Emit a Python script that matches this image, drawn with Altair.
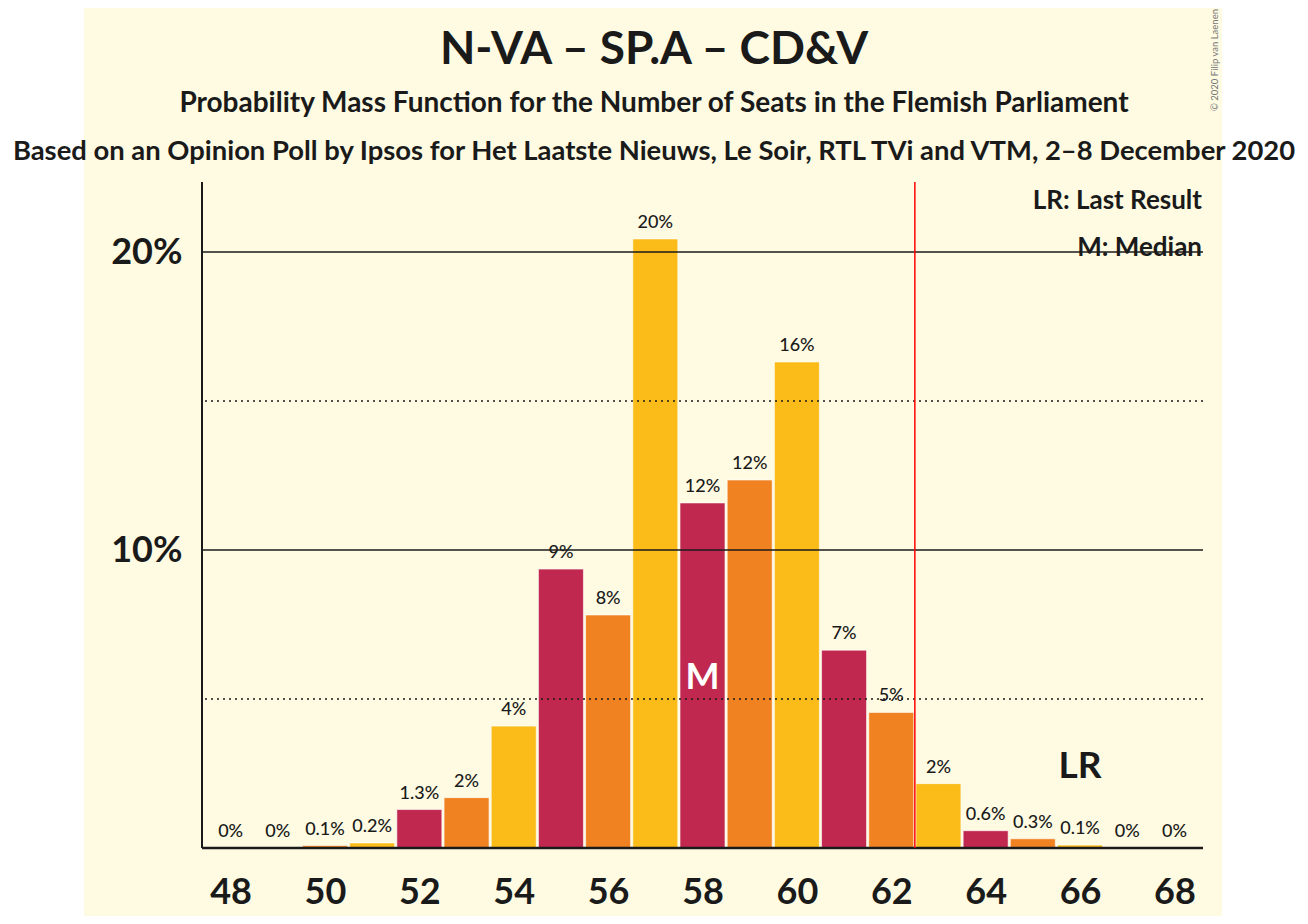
import pandas as pd
import altair as alt

# seats and probability mass (in percent)
seats = list(range(48, 69))
probs = [0, 0, 0.08, 0.17, 1.29, 1.69, 4.09, 9.36, 7.82, 20.44, 11.58,
         12.35, 16.31, 6.64, 4.55, 2.16, 0.58, 0.31, 0.1, 0, 0]
labels = ["0%", "0%", "0.1%", "0.2%", "1.3%", "2%", "4%", "9%", "8%", "20%",
          "12%", "12%", "16%", "7%", "5%", "2%", "0.6%", "0.3%", "0.1%",
          "0%", "0%"]
party_cycle = ["CD&V", "N-VA", "SP.A"]  # seat % 3 -> colour group
party_colours = ["#FBBC19", "#C0284F", "#F08222"]

majority = 62.5
median_seat = 58
last_result_seat = 66
grid_solid = [0.10, 0.20]
grid_dotted = [0.05, 0.15]
x_ticks = list(range(48, 69, 2))

title = "N-VA – SP.A – CD&V"
subtitle = "Probability Mass Function for the Number of Seats in the Flemish Parliament"
source = "Based on an Opinion Poll by Ipsos for Het Laatste Nieuws, Le Soir, RTL TVi and VTM, 2–8 December 2020"

FONT = "Lato"
INK = "#1A1A1A"
CREAM = "#FEFBE2"
Y_DOMAIN = [0, 0.2235]

df = pd.DataFrame({
    "seats": seats,
    "prob": [p / 100 for p in probs],
    "label": labels,
    "group": [party_cycle[s % 3] for s in seats],
})

x = alt.X("seats:Q", scale=alt.Scale(domain=[47.5, 68.5], nice=False, zero=False),
          axis=alt.Axis(values=x_ticks, title=None, grid=False, ticks=False,
                        domain=False, labelFont=FONT, labelFontSize=36,
                        labelFontWeight="bold", labelColor=INK, labelPadding=27,
                        zindex=2))
y = alt.Y("prob:Q", scale=alt.Scale(domain=Y_DOMAIN, nice=False),
          axis=alt.Axis(values=grid_solid, format=".0%", title=None, grid=False,
                        ticks=False, domain=False, labelFont=FONT,
                        labelFontSize=36, labelFontWeight="bold",
                        labelColor=INK, labelPadding=20, zindex=2))

base = alt.Chart(df)

# cream panel behind everything
panel = alt.Chart(pd.DataFrame({"a": [0]})).mark_rect(color=CREAM).encode(
    x=alt.value(-118), x2=alt.value(1020), y=alt.value(-190), y2=alt.value(750)
)

bars = base.mark_bar(width=45, stroke="white", strokeWidth=1, strokeOpacity=0.6).encode(
    x=x, y=y,
    color=alt.Color("group:N", scale=alt.Scale(domain=party_cycle, range=party_colours),
                    legend=None),
)

solid = alt.Chart(pd.DataFrame({"prob": grid_solid})).mark_rule(
    color=INK, strokeWidth=1.5
).encode(y="prob:Q")

dotted = alt.Chart(pd.DataFrame({"prob": grid_dotted})).mark_rule(
    color=INK, strokeWidth=1.5, strokeDash=[2, 4]
).encode(y="prob:Q")

values = base.mark_text(font=FONT, fontSize=18, fontWeight=500, color=INK,
                        baseline="alphabetic", dy=-11).encode(
    x="seats:Q", y="prob:Q", text="label:N"
)

axes_lines = alt.Chart(pd.DataFrame({"a": [0]})).mark_rule(color=INK, strokeWidth=2.5).encode(
    x=alt.value(0), x2=alt.value(1001), y=alt.value(666)
) + alt.Chart(pd.DataFrame({"a": [0]})).mark_rule(color=INK, strokeWidth=2).encode(
    x=alt.value(0), y=alt.value(0), y2=alt.value(666)
)

majority_rule = alt.Chart(pd.DataFrame({"seats": [majority]})).mark_rule(
    color="#FF0000", strokeWidth=1.5
).encode(x="seats:Q")

median_mark = alt.Chart(pd.DataFrame({"seats": [median_seat], "t": ["M"]})).mark_text(
    font=FONT, fontSize=36, fontWeight="bold", color="white", baseline="middle"
).encode(x="seats:Q", y=alt.value(496), text="t:N")

lr_mark = alt.Chart(pd.DataFrame({"seats": [last_result_seat], "t": ["LR"]})).mark_text(
    font=FONT, fontSize=37, fontWeight="bold", color=INK, baseline="middle"
).encode(x="seats:Q", y=alt.value(585), text="t:N")

legend_txt = alt.Chart(pd.DataFrame({
    "t": ["LR: Last Result", "M: Median"], "py": [19, 66]
})).mark_text(font=FONT, fontSize=26, fontWeight="bold", color=INK,
              align="right", baseline="middle").encode(
    x=alt.value(1000), y=alt.Y("py:Q", scale=None), text="t:N"
)

titles = alt.Chart(pd.DataFrame({
    "t": [title, subtitle, source], "py": [-132, -78, -30],
    "fs": [46, 28, 27.4]
})).mark_text(font=FONT, fontWeight="bold", color=INK, baseline="middle").encode(
    x=alt.value(452), y=alt.Y("py:Q", scale=None), text="t:N",
    size=alt.Size("fs:Q", scale=None, legend=None)
)

credit = alt.Chart(pd.DataFrame({"t": ["© 2020 Filip van Laenen"]})).mark_text(
    font=FONT, fontSize=9.5, color="#777777", angle=270, align="left", baseline="middle"
).encode(x=alt.value(1013), y=alt.value(-71), text="t:N")

chart = alt.layer(
    panel, bars, dotted, solid, values, axes_lines, majority_rule,
    median_mark, lr_mark, legend_txt, titles, credit
).properties(
    width=1001, height=666,
    autosize=alt.AutoSizeParams(type="none"),
    padding={"left": 194, "top": 174, "right": 97, "bottom": 68},
    background="white",
).configure_view(stroke=None, fill=None)

chart.save("out.html", embed_options={"renderer": "svg", "actions": False})
